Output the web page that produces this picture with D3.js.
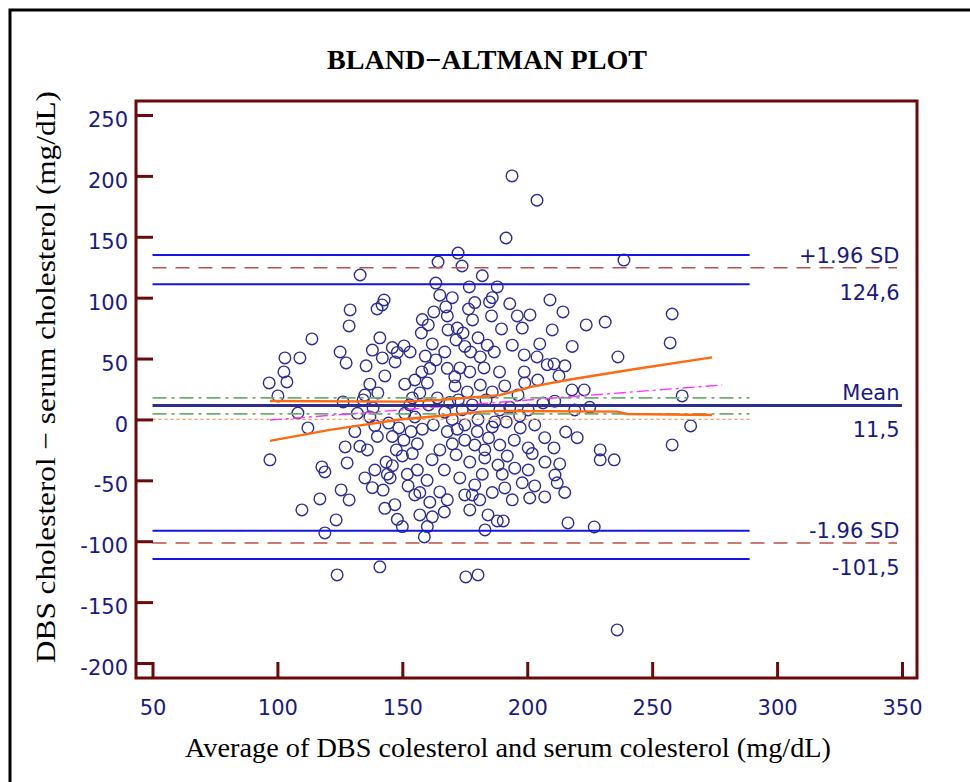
<!DOCTYPE html>
<html>
<head>
<meta charset="utf-8">
<script src="https://cdn.jsdelivr.net/npm/d3@7"></script>
<style>
  body { margin: 0; background: #fff; }
  svg { display: block; }
</style>
</head>
<body>
<div id="vis"></div>
<script>
// ---- data ----
const xTicks = [50, 100, 150, 200, 250, 300, 350];
const yTicks = [-200, -150, -100, -50, 0, 50, 100, 150, 200, 250];

const meanDiff = 11.5;
const upperLimit = 124.6;
const lowerLimit = -101.5;
const upperLimitCI = [135, 111];
const lowerLimitCI = [-91.5, -114.5];
const meanCI = [17.7, 4.6];
const ciRange = [50, 289];
const limitRange = [50, 348];

const regLine = [[97, -0.5], [278, 28.3]];
const regUpper = [[97, 15.2], [150, 14.6], [165, 16], [189, 20], [202, 27], [216, 32.4], [242, 41], [274, 51]];
const regLower = [[97, -17.6], [121, -8.6], [149, 0], [169, 3.7], [182, 6.4], [189, 7], [236, 6.4], [240, 4.5], [274, 3.7]];

const avgValues = [
  96.7, 97.0, 100.2, 102.6, 103.8, 103.0, 109.0, 108.2, 112.2, 113.8, 109.8, 117.8, 119.0, 117.0, 119.0, 123.5, 123.9,
  126.3, 129.1, 128.7, 125.1, 127.5, 127.1, 127.9, 125.5, 128.7,
  133.1, 142.7, 141.9, 139.9, 138, 141, 135.5, 142, 146, 148, 150.7, 153.1, 147.1, 143, 137, 140.2, 134.3, 138.3,
  140, 136, 144.5, 146, 148.6, 150.6, 153.5, 147.6, 143.5, 139, 135, 138, 142.3, 145.1, 152.3, 155, 147, 143,
  157, 158.8, 141, 156, 159.9, 161.9, 165, 166.8, 165, 161, 168, 166.8,
  151, 155, 157.8, 161, 163.4, 167, 159.2, 154, 157, 160.5, 164, 167, 162.4, 164.3, 163.4, 162.6, 167.4, 160.4, 157.6, 168.3,
  172.3, 173.9, 193.9, 203.9, 191.5, 176.8, 188, 176.5, 178.1, 185.7, 184.9, 196, 201.1, 209.1, 174.3, 171.5, 180.3, 184,
  189.7, 194, 198.8, 203.9, 177.3, 181.2, 186.8, 173.1, 177, 182.7, 188.9, 198.8, 204.2, 171.1, 176, 181.2, 186, 191, 196.3,
  172.4, 178, 183.5, 189, 200.4, 206.3, 170, 175, 180.3, 186, 191.6, 197.2, 203, 175, 179, 184.5, 189, 194.8, 200.4, 207,
  171.5, 177, 183, 188.3, 200.4, 207.1, 173, 179, 191, 203, 175, 181, 194, 201, 207, 177, 184.3, 188, 190.4, 175.4, 180.3, 183.1,
  210.7, 215.1, 212.7, 214.3, 210, 231.2, 223.6, 222.8, 236.3, 238.7, 258, 257.2, 262, 258, 265.4, 229.2, 229.2, 234.8,
  226.8, 216.3, 236, 210.7, 213, 211.1, 215.4, 219, 217.9,
  131, 133, 135, 137, 139, 132,
  144, 146, 150, 152, 154, 156, 158, 151, 153, 155,
  157, 160, 162, 150, 148,
  160, 162, 158, 165, 170, 168, 172, 175,
  168, 170, 172, 174, 169, 171, 168,
  178, 182, 186, 190, 192, 195, 198,
  180, 183, 187, 193, 197, 199, 202,
  182, 186, 179, 193, 198, 205, 208,
  215, 212, 220, 225, 218, 211
];
const diffValues = [
  30.0, -33.2, 19.3, 39.0, 30.8, 50.5, 50.5, 5.3, -7.0, 66.1, -74.3, -39.0, -43.1, -65.3, -93.2, -82.5, -127.7,
  14.4, 89.9, 76.8, 55.4, 46.4, -22.6, -35.7, -57.9, -66.1,
  118.6, 98.1, 94.0, 90.7, 57, 67, 44, 50.5, 59, 55, 60.4, 55.4, 47.2, 35.7, 29, 21.8, 16, 9.4,
  -14, -25, -3, -14, -7, -17, -10, -25, -35, -41.5, -48, -56, -58, -48, -54.6, -62, -70, -73,
  -78.4, -96.5, -121, -41.5, -50, -33, -25, -41.5, -59.5, -68, -66, -76,
  29, 32.4, 39, 42, 48.9, 55.4, 52, 17.7, 21.8, 11.9, 17.7, 6, -4.5, 129.3, 112, 88.3, 92.4, 77.6, 71, 73.5,
  136.6, 126, 200, 180, 149, 108.8, 108.8, 90.7, 81.7, 85, 96.5, 85, 85.8, 98.1, 71, 65.3, 67, 61,
  74.3, 61, 53, 51.3, 55.4, 51.3, 55.4, 42.3, 39, 42.3, 39, 39, 32.4, 27.5, 22.6, 28.3, 22.6, 27.5, 20.1,
  16, 11.9, 16, 7.8, 7.8, 13.5, 0, -4.5, 0, -6.2, -2, -7, -4.5, -17, -21, -15.2, -21, -17, -23.4, -15,
  -29, -35, -31.6, -37.4, -41.5, -35, -48, -53.8, -56.2, -54.6, -62, -66, -66, -64.5, -63.6, -74.3, -78.4, -83.3, -83.3, -129.3, -127.7, -90.7,
  45.6, 44, 35.7, 88.3, 73.5, 80, 77.6, 24.2, 51.3, 130.9, 86.6, 62.8, 19.3, -20.9, -5.3, -25, -33.2, -33.2,
  -88.3, -85, -172.8, -23.4, -36.5, -45.6, -10.3, 7.8, 24.2,
  -10, -22, 20, 2, -5, 5,
  -45, -38, -30, -45, -28, -20, -8, 5, 12, 2,
  -60, -88, -80, -88, -82,
  30, 62, 82, 102, 100, 85, 75, 60,
  -10, -20, -8, 8, 14, 35, 42,
  -62, -45, -60, -45, -30, -40, -52,
  -10, -25, -2, 10, 3, 30, -28,
  118, 100, 96, 95, 75, 62, 45,
  -60, -52, -15, 10, 60, 15
];

function createBlandAltman() {
  const w = 970;
  const h = 782;
  // plot frame (pixels)
  const frameLeft = 136, frameRight = 917, frameTop = 101, frameBottom = 678;
  const axisColor = "#6b0a0a";
  const textColor = "#1a1a85";

  const xScale = d3.scaleLinear().domain([50, 350]).range([152.5, 902]);
  const yScale = d3.scaleLinear().domain([-200, 250]).range([663, 115]);

  const svg = d3.select("#vis").append("svg")
    .attr("width", w)
    .attr("height", h);

  svg.append("rect").attr("width", w).attr("height", h).attr("fill", "#fff");

  // outer border
  svg.append("rect")
    .attr("x", 10).attr("y", 10)
    .attr("width", 1000).attr("height", 820)
    .attr("fill", "none")
    .attr("stroke", "#000")
    .attr("stroke-width", 3);

  /* TITLE */
  svg.append("text")
    .attr("x", 487).attr("y", 69)
    .attr("text-anchor", "middle")
    .attr("font-family", "Liberation Serif")
    .attr("font-weight", "bold")
    .attr("font-size", 27)
    .attr("textLength", 320)
    .attr("lengthAdjust", "spacingAndGlyphs")
    .text("BLAND\u2212ALTMAN PLOT");

  /* POINTS */
  const pts = avgValues.map((v, i) => ({ x: v, y: diffValues[i] }));
  svg.append("g")
    .selectAll("circle")
    .data(pts)
    .enter()
    .append("circle")
    .attr("cx", d => xScale(d.x))
    .attr("cy", d => yScale(d.y))
    .attr("r", 5.8)
    .attr("fill", "none")
    .attr("stroke", "#2c2c94")
    .attr("stroke-width", 1.4);

  /* REFERENCE LINES */
  function hline(val, range, color, width, dash) {
    svg.append("line")
      .attr("x1", xScale(range[0])).attr("x2", xScale(range[1]))
      .attr("y1", yScale(val)).attr("y2", yScale(val))
      .attr("stroke", color)
      .attr("stroke-width", width)
      .attr("stroke-dasharray", dash || null);
  }

  upperLimitCI.concat(lowerLimitCI).forEach(v => hline(v, ciRange, "#1414e6", 2));
  hline(upperLimit, limitRange, "#b85050", 1.4, "14,9");
  hline(lowerLimit, limitRange, "#b85050", 1.4, "14,9");
  meanCI.forEach(v => hline(v, ciRange, "#6fae6f", 1.6, "14,5,3,5"));
  hline(0, ciRange, "#ff9a50", 1.3, "3,3");

  const line = d3.line()
    .x(d => xScale(d[0]))
    .y(d => yScale(d[1]));

  svg.append("path")
    .attr("d", line(regLine))
    .attr("fill", "none")
    .attr("stroke", "#ff33ff")
    .attr("stroke-width", 1.4)
    .attr("stroke-dasharray", "12,4,3,4");

  [regUpper, regLower].forEach(band => {
    svg.append("path")
      .attr("d", line(band))
      .attr("fill", "none")
      .attr("stroke", "#ff6a10")
      .attr("stroke-width", 2.4);
  });

  hline(meanDiff, [50, 350], "#2e2e8e", 3);

  /* LIMIT LABELS */
  const labels = [
    { text: "+1.96 SD", val: upperLimit, dy: -5 },
    { text: upperLimit.toFixed(1).replace(".", ","), val: upperLimit, dy: 32 },
    { text: "Mean", val: meanDiff, dy: -5 },
    { text: meanDiff.toFixed(1).replace(".", ","), val: meanDiff, dy: 32 },
    { text: "-1.96 SD", val: lowerLimit, dy: -5 },
    { text: lowerLimit.toFixed(1).replace(".", ","), val: lowerLimit, dy: 32 }
  ];
  svg.append("g")
    .selectAll("text")
    .data(labels)
    .enter()
    .append("text")
    .attr("x", xScale(349))
    .attr("y", d => yScale(d.val) + d.dy)
    .attr("text-anchor", "end")
    .attr("font-family", "DejaVu Sans")
    .attr("font-size", 21)
    .attr("fill", textColor)
    .text(d => d.text);

  /* AXES */
  const yAxis = d3.axisLeft(yScale)
    .tickValues(yTicks)
    .tickFormat(d => String(d))
    .tickSizeInner(-(153 - frameLeft))
    .tickSizeOuter(0)
    .tickPadding(8);

  const xAxis = d3.axisBottom(xScale)
    .tickValues(xTicks)
    .tickFormat(d => String(d))
    .tickSizeInner(-(frameBottom - 662))
    .tickSizeOuter(0)
    .tickPadding(22);

  const gy = svg.append("g")
    .attr("transform", "translate(" + frameLeft + ",0)")
    .call(yAxis);
  const gx = svg.append("g")
    .attr("transform", "translate(0," + frameBottom + ")")
    .call(xAxis);

  [gx, gy].forEach(g => {
    g.select(".domain").remove();
    g.selectAll(".tick line").attr("stroke", axisColor).attr("stroke-width", 3);
    g.selectAll(".tick text")
      .attr("font-family", "DejaVu Sans")
      .attr("font-size", 21)
      .attr("fill", textColor);
  });
  gy.selectAll(".tick text").attr("dy", "0.55em");

  // frame
  svg.append("rect")
    .attr("x", frameLeft).attr("y", frameTop)
    .attr("width", frameRight - frameLeft)
    .attr("height", frameBottom - frameTop)
    .attr("fill", "none")
    .attr("stroke", axisColor)
    .attr("stroke-width", 3);

  /* AXIS TITLES */
  svg.append("text")
    .attr("transform", "translate(55,377) rotate(-90)")
    .attr("text-anchor", "middle")
    .attr("font-family", "Liberation Serif")
    .attr("font-size", 28)
    .attr("textLength", 572)
    .attr("lengthAdjust", "spacingAndGlyphs")
    .text("DBS cholesterol \u2212 serum cholesterol (mg/dL)");

  svg.append("text")
    .attr("x", 508).attr("y", 757)
    .attr("text-anchor", "middle")
    .attr("font-family", "Liberation Serif")
    .attr("font-size", 28)
    .attr("textLength", 646)
    .attr("lengthAdjust", "spacingAndGlyphs")
    .text("Average of DBS colesterol and serum colesterol (mg/dL)");
}

createBlandAltman();
</script>
</body>
</html>
